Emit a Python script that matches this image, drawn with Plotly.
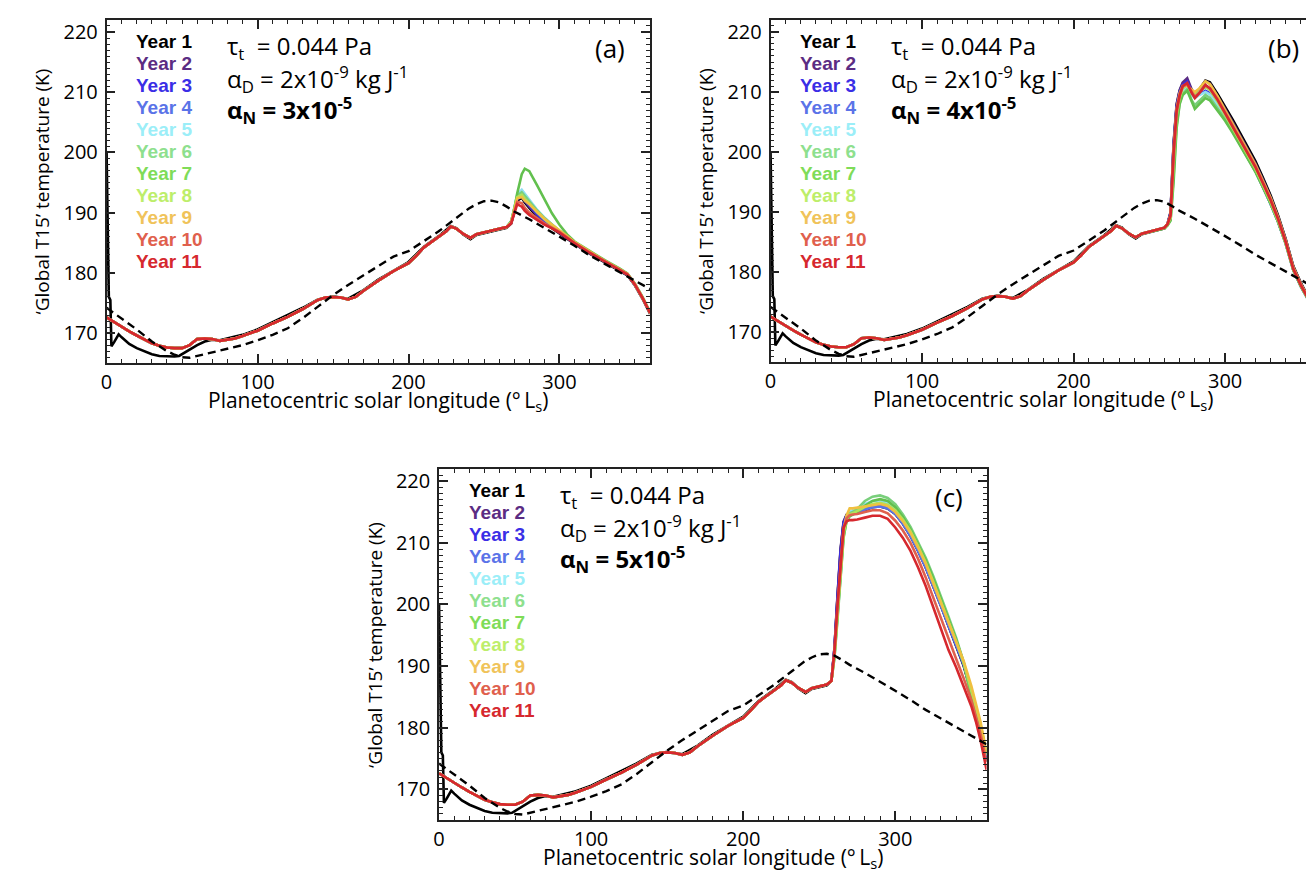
import plotly.graph_objects as go

W, H = 1314, 873

# ---------------- data ----------------
YEAR_LABELS = ["Year 1", "Year 2", "Year 3", "Year 4", "Year 5", "Year 6",
               "Year 7", "Year 8", "Year 9", "Year 10", "Year 11"]
X_TICKS = [0, 100, 200, 300]
Y_TICKS = [170, 180, 190, 200, 210, 220]

# Pre-dust-storm part shared by Years 2-11 (all panels)
COMMON_LS = [0, 5, 10, 15, 20, 25, 30, 35, 40, 45, 50, 55, 60, 65, 70, 75, 80, 85, 90, 95,
             100, 110, 120, 130, 140, 145, 150, 155, 160, 165, 170, 180, 190, 200, 205, 210,
             220, 225, 228, 232, 236, 241, 245, 250, 255]
COMMON_T = [172.6, 171.8, 171.0, 170.3, 169.6, 169.0, 168.3, 167.9, 167.6, 167.5, 167.5, 168.0,
            169.0, 169.1, 169.0, 168.7, 168.9, 169.1, 169.5, 169.9, 170.4, 171.6, 172.7, 174.0,
            175.5, 175.9, 176.0, 175.9, 175.6, 176.0, 177.0, 178.7, 180.3, 181.6, 182.8, 184.2,
            186.0, 186.9, 187.7, 187.3, 186.5, 185.8, 186.4, 186.7, 187.0]

# Year 1 pre-storm part (spin-up spike at Ls 0)
Y1_LS = [0, 0.8, 1.5, 2.5, 3.2, 5, 8, 10, 15, 20, 25, 30, 35, 40, 45, 48, 52, 56, 60, 65, 70,
         75, 80, 90, 100, 110, 120, 130, 140, 150, 160, 170, 180, 190, 200, 210, 220, 228, 232,
         236, 241, 245, 250, 255]
Y1_T = [200.0, 185.0, 176.0, 175.5, 167.8, 168.5, 169.8, 169.3, 168.2, 167.5, 167.0, 166.5,
        166.2, 166.1, 166.1, 166.2, 166.8, 167.5, 168.0, 168.6, 168.9, 168.8, 169.1, 169.7,
        170.6, 171.8, 173.0, 174.2, 175.6, 176.1, 175.7, 177.1, 178.9, 180.4, 181.8, 184.3,
        186.1, 187.8, 187.4, 186.4, 185.6, 186.3, 186.6, 186.9]

# Reference curve (black dashed)
REF_LS = [0, 10, 20, 30, 40, 45, 50, 55, 60, 70, 80, 90, 100, 110, 120, 130, 140, 150, 160,
          170, 180, 190, 200, 210, 220, 230, 240, 245, 250, 255, 260, 265, 270, 280, 290, 300,
          310, 320, 330, 340, 350, 355, 360]
REF_T = [174.2, 172.4, 170.6, 168.6, 167.0, 166.4, 166.0, 165.9, 166.2, 166.8, 167.3, 168.0,
         168.8, 169.7, 170.8, 172.5, 174.4, 176.3, 178.0, 179.6, 181.2, 182.7, 183.6, 185.2,
         186.9, 188.8, 190.7, 191.4, 191.9, 192.0, 191.7, 191.0, 190.2, 188.9, 187.5, 186.0,
         184.5, 182.9, 181.5, 180.1, 178.7, 178.0, 177.3]

# ---- panel (a): alpha_N = 3e-5 ----
A_LS = [260, 265, 268, 270, 272, 275, 277, 280, 285, 290, 295, 300, 305, 310, 320, 330, 340,
        345, 350, 355, 360]
A_Y1 = [187.2, 187.5, 188.2, 190.3, 192.0, 192.5, 191.7, 190.8, 189.4, 188.3, 187.4, 186.6,
        185.7, 184.8, 183.2, 181.8, 180.4, 179.6, 177.9, 175.7, 173.2]
A_Y2 = [187.3, 187.6, 188.3, 190.4, 192.2, 192.7, 191.9, 191.0, 189.6, 188.4, 187.5, 186.7,
        185.8, 184.9, 183.3, 181.9, 180.5, 179.7, 178.0, 175.8, 173.3]
A_Y3 = [187.3, 187.6, 188.3, 190.5, 192.3, 192.9, 192.1, 191.2, 189.8, 188.6, 187.6, 186.7,
        185.8, 184.9, 183.3, 181.9, 180.5, 179.7, 178.0, 175.8, 173.3]
A_Y4 = [187.3, 187.6, 188.4, 190.7, 192.6, 193.5, 192.7, 191.6, 190.2, 188.9, 187.8, 186.9,
        185.9, 184.9, 183.3, 181.9, 180.5, 179.7, 178.0, 175.8, 173.3]
A_Y5 = [187.3, 187.6, 188.5, 191.0, 193.0, 193.8, 193.1, 192.1, 190.5, 189.2, 188.0, 187.0,
        186.0, 185.0, 183.4, 182.0, 180.6, 179.8, 178.0, 175.8, 173.3]
A_Y6 = [187.3, 187.6, 188.5, 190.9, 192.8, 193.4, 192.8, 191.9, 190.4, 189.1, 188.0, 187.0,
        186.0, 185.0, 183.4, 182.0, 180.6, 179.8, 178.0, 175.8, 173.3]
A_Y7 = [187.3, 187.6, 188.6, 190.5, 193.2, 196.4, 197.3, 196.9, 194.6, 192.2, 189.9, 188.0,
        186.4, 185.2, 183.6, 182.1, 180.7, 179.9, 178.2, 176.0, 173.5]
A_Y8 = [187.3, 187.6, 188.4, 190.8, 192.6, 193.0, 192.3, 191.5, 190.1, 188.9, 187.9, 187.0,
        186.0, 185.0, 183.4, 182.0, 180.6, 179.8, 178.1, 175.9, 173.4]
A_Y9 = [187.3, 187.6, 188.4, 190.6, 192.4, 192.6, 192.0, 191.4, 190.2, 189.0, 188.0, 187.1,
        186.1, 185.1, 183.5, 182.0, 180.6, 179.8, 178.0, 175.8, 173.3]
A_Y10 = [187.3, 187.6, 188.3, 190.2, 191.8, 191.6, 190.8, 190.0, 189.1, 188.2, 187.5, 186.8,
         185.9, 185.0, 183.4, 182.0, 180.6, 179.8, 178.1, 175.9, 173.4]
A_Y11 = [187.3, 187.6, 188.2, 190.0, 191.4, 191.0, 190.3, 189.6, 188.8, 188.0, 187.4, 186.7,
         185.8, 184.9, 183.3, 181.9, 180.5, 179.7, 178.0, 175.8, 173.3]

# ---- panel (b): alpha_N = 4e-5 ----
B_LS = [260, 262, 264, 266, 268, 270, 272, 275, 278, 280, 283, 287, 290, 295, 300, 305, 310,
        315, 320, 325, 330, 335, 340, 345, 350, 355, 360]
B_Y1 = [187.3, 188.0, 189.9, 201.2, 207.8, 210.2, 211.4, 211.9, 210.3, 209.6, 210.4, 211.9,
        211.6, 209.7, 207.6, 205.4, 203.1, 200.8, 198.5, 195.7, 192.8, 189.4, 185.5, 181.0,
        178.2, 175.8, 173.5]
B_Y2 = [187.4, 188.0, 190.0, 201.5, 208.0, 210.3, 211.6, 212.3, 210.4, 209.5, 210.5, 211.8,
        211.4, 209.4, 207.2, 205.0, 202.7, 200.4, 198.1, 195.4, 192.5, 189.2, 185.4, 180.9,
        178.1, 175.7, 173.4]
B_Y3 = [187.4, 188.0, 189.8, 201.0, 207.5, 210.0, 211.2, 211.8, 210.0, 209.3, 209.6, 210.2,
        209.8, 207.9, 205.8, 203.6, 201.3, 199.1, 196.8, 194.1, 191.4, 188.3, 184.7, 180.3,
        177.6, 175.3, 173.2]
B_Y4 = [187.4, 188.0, 189.4, 199.5, 206.8, 209.5, 210.8, 211.4, 210.0, 209.8, 210.3, 211.0,
        210.4, 208.3, 206.0, 203.8, 201.5, 199.3, 197.0, 194.3, 191.5, 188.4, 184.8, 180.4,
        177.7, 175.4, 173.3]
B_Y5 = [187.4, 188.0, 189.2, 198.5, 206.2, 209.1, 210.4, 210.8, 209.5, 209.0, 209.5, 210.0,
        209.6, 207.8, 205.9, 203.8, 201.6, 199.4, 197.1, 194.4, 191.6, 188.5, 184.9, 180.5,
        177.8, 175.5, 173.3]
B_Y6 = [187.3, 187.8, 188.7, 196.0, 204.5, 208.2, 209.7, 210.5, 208.6, 207.8, 208.6, 209.5,
        209.0, 207.2, 205.5, 203.4, 201.2, 199.0, 196.8, 194.2, 191.5, 188.4, 184.8, 180.4,
        177.7, 175.4, 173.3]
B_Y7 = [187.3, 187.8, 188.6, 195.0, 204.0, 208.0, 209.5, 210.2, 208.3, 207.2, 208.0, 209.0,
        208.6, 206.9, 205.2, 203.2, 201.0, 198.9, 196.7, 194.1, 191.4, 188.3, 184.7, 180.3,
        177.6, 175.3, 173.2]
B_Y8 = [187.4, 188.0, 189.0, 198.0, 206.0, 209.0, 210.6, 211.2, 209.9, 209.5, 210.1, 210.8,
        210.3, 208.4, 206.2, 204.0, 201.7, 199.5, 197.2, 194.5, 191.7, 188.5, 184.8, 180.4,
        177.7, 175.4, 173.3]
B_Y9 = [187.4, 188.0, 189.6, 200.5, 207.2, 209.8, 211.0, 211.0, 210.3, 210.0, 210.6, 211.8,
        211.3, 209.3, 207.0, 204.8, 202.5, 200.2, 197.9, 195.2, 192.4, 189.1, 185.3, 180.8,
        178.0, 175.7, 173.5]
B_Y10 = [187.4, 188.0, 189.3, 199.0, 206.5, 209.3, 210.9, 211.3, 209.9, 209.2, 209.9, 211.1,
         210.6, 208.8, 206.6, 204.4, 202.1, 199.9, 197.6, 194.9, 192.1, 188.9, 185.1, 180.6,
         177.9, 175.6, 173.4]
B_Y11 = [187.4, 188.0, 189.5, 200.0, 207.0, 209.5, 211.0, 211.5, 209.8, 209.0, 209.8, 211.2,
         210.6, 208.7, 206.5, 204.3, 202.0, 199.8, 197.5, 194.8, 192.0, 188.8, 185.0, 180.5,
         177.8, 175.5, 173.3]

# ---- panel (c): alpha_N = 5e-5 ----
C_LS = [258, 260, 262, 264, 266, 268, 270, 272, 275, 280, 285, 290, 295, 300, 305, 310, 315,
        320, 325, 330, 335, 340, 345, 350, 353, 356, 360]
C_Y1 = [187.6, 192.8, 201.2, 208.7, 213.3, 214.5, 214.6, 214.7, 214.8, 215.3, 215.8, 215.9,
        215.6, 214.7, 213.1, 211.1, 208.7, 206.0, 203.0, 199.8, 196.5, 193.3, 190.0, 185.6,
        182.3, 179.3, 174.5]
C_Y2 = [187.6, 193.0, 201.5, 209.0, 213.5, 214.6, 214.7, 214.8, 214.9, 215.5, 216.0, 216.1,
        215.8, 214.9, 213.3, 211.3, 208.9, 206.2, 203.2, 200.0, 196.7, 193.5, 190.2, 185.8,
        182.5, 179.5, 174.8]
C_Y3 = [187.6, 192.8, 201.0, 208.5, 213.2, 214.4, 214.6, 214.7, 214.9, 215.4, 215.9, 216.0,
        215.7, 214.8, 213.2, 211.2, 208.8, 206.1, 203.1, 199.9, 196.6, 193.4, 190.2, 186.0,
        183.0, 180.0, 175.0]
C_Y4 = [187.6, 192.3, 199.8, 207.0, 212.6, 214.3, 214.6, 214.7, 214.9, 215.4, 215.8, 215.9,
        215.6, 214.7, 213.1, 211.1, 208.7, 206.0, 203.0, 199.8, 196.6, 193.5, 190.3, 186.2,
        183.3, 180.5, 175.5]
C_Y5 = [187.6, 191.8, 198.8, 205.8, 211.6, 214.2, 215.0, 215.3, 215.6, 216.3, 216.8, 216.9,
        216.5, 215.5, 213.9, 211.9, 209.5, 206.9, 203.9, 200.7, 197.4, 194.2, 190.6, 185.8,
        182.8, 180.2, 175.5]
C_Y6 = [187.6, 191.3, 197.5, 204.5, 210.8, 213.8, 214.8, 215.0, 215.5, 216.8, 217.5, 217.7,
        217.3, 216.3, 214.6, 212.6, 210.2, 207.6, 204.6, 201.4, 198.0, 194.6, 190.6, 184.8,
        182.0, 179.8, 175.6]
C_Y7 = [187.6, 191.5, 198.0, 205.0, 211.0, 213.5, 214.3, 214.6, 215.0, 216.0, 216.8, 217.1,
        216.8, 215.8, 214.2, 212.2, 209.8, 207.2, 204.2, 201.0, 197.6, 194.3, 190.5, 185.5,
        182.5, 180.0, 175.8]
C_Y8 = [187.6, 191.8, 198.5, 205.5, 211.5, 213.8, 214.6, 214.8, 215.2, 215.8, 216.3, 216.5,
        216.2, 215.3, 213.8, 211.9, 209.5, 206.8, 203.7, 200.5, 197.2, 194.0, 190.5, 186.0,
        183.0, 180.5, 175.8]
C_Y9 = [187.6, 192.0, 199.0, 206.0, 212.0, 214.5, 215.6, 215.6, 215.7, 215.9, 216.1, 216.3,
        216.0, 215.0, 213.5, 211.6, 209.2, 206.6, 203.4, 200.2, 197.0, 194.0, 190.8, 186.8,
        183.8, 181.0, 176.0]
C_Y10 = [187.6, 192.3, 199.5, 206.5, 212.3, 214.0, 214.5, 214.6, 214.7, 215.0, 215.3, 215.3,
         214.8, 213.6, 212.0, 210.0, 207.4, 204.4, 201.1, 197.6, 194.2, 191.2, 188.0, 184.5,
         181.8, 179.0, 174.5]
C_Y11 = [187.6, 192.5, 200.0, 207.0, 212.5, 213.5, 213.7, 213.7, 213.8, 214.1, 214.4, 214.4,
         213.9, 212.5, 210.8, 208.7, 206.0, 203.0, 199.6, 196.0, 192.6, 189.8, 186.8, 183.5,
         181.0, 178.0, 173.2]

PANEL_LABELS = ["(a)", "(b)", "(c)"]
ALPHA_N_TEXT = ["3x10<sup>-5</sup>", "4x10<sup>-5</sup>", "5x10<sup>-5</sup>"]
TAU_TEXT = "τ<sub>t</sub>\u00a0 = 0.044 Pa"
ALPHA_D_TEXT = "α<sub>D</sub> = 2x10<sup>-9</sup> kg J<sup>-1</sup>"
X_TITLE = "Planetocentric solar longitude (°\u2009L<sub>s</sub>)"
Y_TITLE = "‘Global T15’ temperature (K)"

# ---------------- styles ----------------
LABEL_COLORS = ["#000000", "#5b2c83", "#3a2ee6", "#5a73e8", "#9beef8", "#8ee08e",
                "#7fdc58", "#bdee6a", "#f0c35a", "#e0604d", "#d6282e"]
LINE_COLORS = ["#000000", "#5b2c83", "#3a2ee6", "#5a73e8", "#8fdff0", "#79cf7c",
               "#62c04e", "#b0e25c", "#f0c040", "#e0604d", "#d6282e"]

# plot boxes in pixels: left, right, top, bottom
BOXES = [(93, 639, 10, 354), (760, 1308, 10, 353), (427, 977, 460, 812)]
LABEL_OFFSETS = [40, 33, 38]


def px(x):
    return x / W


def py(y):
    return 1 - y / H


fig = go.Figure()

panel_storm = [
    (A_LS, [A_Y1, A_Y2, A_Y3, A_Y4, A_Y5, A_Y6, A_Y7, A_Y8, A_Y9, A_Y10, A_Y11]),
    (B_LS, [B_Y1, B_Y2, B_Y3, B_Y4, B_Y5, B_Y6, B_Y7, B_Y8, B_Y9, B_Y10, B_Y11]),
    (C_LS, [C_Y1, C_Y2, C_Y3, C_Y4, C_Y5, C_Y6, C_Y7, C_Y8, C_Y9, C_Y10, C_Y11]),
]

AX_COL = "#222222"
TICK_FONT = dict(family="Open Sans, sans-serif", size=20, color="black")
annotations = []

for p, (storm_ls, storm_years) in enumerate(panel_storm):
    xa = "x" if p == 0 else f"x{p+1}"
    ya = "y" if p == 0 else f"y{p+1}"
    for i, lab in enumerate(YEAR_LABELS):
        if i == 0:
            xs = Y1_LS + storm_ls
            ys = Y1_T + storm_years[i]
        else:
            xs = COMMON_LS + storm_ls
            ys = COMMON_T + storm_years[i]
        fig.add_trace(go.Scatter(x=xs, y=ys, mode="lines", name=lab, xaxis=xa, yaxis=ya,
                                 line=dict(color=LINE_COLORS[i], width=2.6),
                                 showlegend=False))
    fig.add_trace(go.Scatter(x=REF_LS, y=REF_T, mode="lines", xaxis=xa, yaxis=ya,
                             line=dict(color="black", width=2.4, dash="8px,5px"),
                             showlegend=False))

    l, r, t, b = BOXES[p]
    axkey = "" if p == 0 else str(p + 1)
    fig.update_layout(**{
        f"xaxis{axkey}": dict(
            domain=[px(l), px(r)], anchor=ya, range=[0, 360],
            tickmode="array", tickvals=X_TICKS, ticks="inside", ticklen=9, tickwidth=1.5,
            tickcolor=AX_COL, showline=True, linewidth=1.6, linecolor=AX_COL, mirror="ticks",
            showgrid=False, zeroline=False, tickfont=TICK_FONT,
            minor=dict(tickmode="linear", tick0=0, dtick=10, ticks="inside", ticklen=4,
                       tickwidth=1.3, tickcolor=AX_COL, showgrid=False)),
        f"yaxis{axkey}": dict(
            domain=[py(b), py(t)], anchor=xa, range=[165, 222],
            tickmode="array", tickvals=Y_TICKS, ticks="inside", ticklen=9, tickwidth=1.5,
            tickcolor=AX_COL, showline=True, linewidth=1.6, linecolor=AX_COL, mirror="ticks",
            showgrid=False, zeroline=False, tickfont=TICK_FONT, ticklabelstandoff=3,
            minor=dict(tickmode="linear", tick0=165, dtick=1, ticks="inside", ticklen=4,
                       tickwidth=1.2, tickcolor=AX_COL, showgrid=False)),
    })

    # axis titles
    annotations.append(dict(text=X_TITLE, x=px((l + r) / 2), y=py(b + 38), xref="paper",
                            yref="paper", showarrow=False, xanchor="center", yanchor="middle",
                            font=dict(family="Open Sans, sans-serif", size=21, color="black")))
    annotations.append(dict(text=Y_TITLE, x=px(l - 65), y=py((t + b) / 2), xref="paper",
                            yref="paper", showarrow=False, xanchor="center", yanchor="middle",
                            textangle=-90,
                            font=dict(family="Open Sans, sans-serif", size=19, color="black")))

    # year labels
    for i, lab in enumerate(YEAR_LABELS):
        annotations.append(dict(text=f"<b>{lab}</b>", x=px(l + 28), y=py(t + 22 + 22 * i),
                                xref="paper", yref="paper", showarrow=False, xanchor="left",
                                yanchor="middle",
                                font=dict(family="Liberation Sans, Arial, sans-serif", size=19,
                                          color=LABEL_COLORS[i])))
    # parameter text
    pfont = dict(family="Open Sans, sans-serif", size=24, color="black")
    annotations.append(dict(text=TAU_TEXT, x=px(l + 119), y=py(t + 27), xref="paper",
                            yref="paper", showarrow=False, xanchor="left", yanchor="middle",
                            font=pfont))
    annotations.append(dict(text=ALPHA_D_TEXT, x=px(l + 119), y=py(t + 59), xref="paper",
                            yref="paper", showarrow=False, xanchor="left", yanchor="middle",
                            font=pfont))
    annotations.append(dict(text=f"<b>α<sub>N</sub> = {ALPHA_N_TEXT[p]}</b>", x=px(l + 119),
                            y=py(t + 90), xref="paper", yref="paper", showarrow=False,
                            xanchor="left", yanchor="middle", font=pfont))
    annotations.append(dict(text=PANEL_LABELS[p], x=px(r - LABEL_OFFSETS[p]), y=py(t + 28),
                            xref="paper", yref="paper", showarrow=False, xanchor="center",
                            yanchor="middle",
                            font=dict(family="Open Sans, sans-serif", size=26, color="black")))

fig.update_layout(width=W, height=H, margin=dict(l=0, r=0, t=0, b=0),
                  paper_bgcolor="white", plot_bgcolor="white", showlegend=False,
                  annotations=annotations)

fig.write_html("out.html")
